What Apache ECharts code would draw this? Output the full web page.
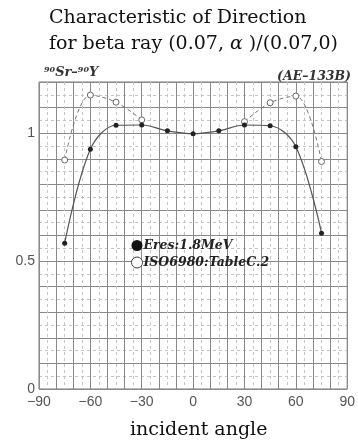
<!DOCTYPE html>
<html><head><meta charset="utf-8">
<script src="https://cdn.jsdelivr.net/npm/echarts@6/dist/echarts.min.js"></script>
<style>html,body{margin:0;padding:0;background:#fff}#c{width:358px;height:442px}</style>
</head><body><div id="c"></div>
<script>
const angles = [-75, -60, -45, -30, -15, 0, 15, 30, 45, 60, 75];
const eres = [0.570, 0.937, 1.031, 1.032, 1.009, 0.998, 1.009, 1.032, 1.029, 0.947, 0.609];
const iso = [0.895, 1.149, 1.121, 1.052, null, null, null, 1.045, 1.119, 1.145, 0.889];
const xTickLabels = [-90, -60, -30, 0, 30, 60, 90];
const yTickLabels = [0, 0.5, 1];

const chart = echarts.init(document.getElementById('c'));
const serif = 'DejaVu Serif';
const fs = 19;
chart.setOption({
  backgroundColor: '#fff',
  animation: false,
  title: {
    text: 'Characteristic of Direction\n{n|for beta ray (0.07, }{i|α}{n| )/(0.07,0)}',
    left: 44, top: 0,
    textStyle: {
      fontFamily: serif, fontSize: fs, fontWeight: 'normal', color: '#111', lineHeight: 26,
      rich: {
        n: {fontFamily: serif, fontSize: fs, color: '#111', lineHeight: 26},
        i: {fontFamily: serif, fontSize: fs, fontStyle: 'italic', color: '#111', lineHeight: 26}
      }
    }
  },
  legend: {
    orient: 'vertical', left: 126, top: 234, itemWidth: 11, itemHeight: 11, itemGap: 4,
    icon: 'circle',
    textStyle: {fontFamily: serif, fontSize: 12.5, fontWeight: 'bold', fontStyle: 'italic', color: '#222', padding: [0,0,0,-4]},
    data: [
      {name: 'Eres:1.8MeV', itemStyle: {color: '#111', borderWidth: 0}},
      {name: 'ISO6980:TableC.2', itemStyle: {color: '#fff', borderColor: '#444', borderWidth: 1}}
    ]
  },
  grid: {left: 39, right: 7, top: 82, bottom: 53, show: true, borderColor: '#777', borderWidth: 1},
  xAxis: {
    type: 'value', min: -90, max: 90, interval: 10,
    axisLine: {show: false}, axisTick: {show: false},
    axisLabel: {
      margin: 6, color: '#555', fontFamily: 'Liberation Sans', fontSize: 14,
      formatter: v => xTickLabels.includes(Math.round(v)) && Math.abs(v - Math.round(v)) < 1e-6 ? String(Math.round(v)).replace('-', '\u2212') : ''
    },
    splitLine: {show: true, lineStyle: {color: '#8a8a8a', width: 1}},
    minorTick: {show: false, splitNumber: 2},
    minorSplitLine: {show: true, lineStyle: {color: '#c4c4c4', type: [3, 3], width: 1}}
  },
  yAxis: {
    type: 'value', min: 0, max: 1.2, interval: 0.1,
    axisLine: {show: false}, axisTick: {show: false},
    axisLabel: {
      margin: 4, color: '#555', fontFamily: 'Liberation Sans', fontSize: 14,
      formatter: v => { const t = yTickLabels.find(y => Math.abs(y - v) < 1e-6); return t === undefined ? '' : String(t); }
    },
    splitLine: {show: true, lineStyle: {color: '#8a8a8a', width: 1}},
    minorTick: {show: false, splitNumber: 2},
    minorSplitLine: {show: true, lineStyle: {color: '#c4c4c4', type: [3, 3], width: 1}}
  },
  series: [
    {
      name: 'Eres:1.8MeV', type: 'line', smooth: 0.35,
      data: angles.map((a, i) => [a, eres[i]]),
      symbol: 'circle', symbolSize: 5,
      itemStyle: {color: '#222'},
      lineStyle: {color: '#555', width: 1.2},
      z: 3
    },
    {
      name: 'ISO6980:TableC.2', type: 'line', smooth: 0.35, connectNulls: false,
      data: angles.map((a, i) => [a, iso[i]]),
      symbol: 'circle', symbolSize: 6,
      itemStyle: {color: '#fff', borderColor: '#666', borderWidth: 1},
      lineStyle: {color: '#777', width: 1, type: [4, 3]},
      z: 2
    }
  ],
  graphic: [
    {type: 'text', left: 44, top: 66, z: 10, style: {
      text: '{s|90}{b|Sr\u2013}{s|90}{b|Y}',
      rich: {
        s: {fontFamily: serif, fontSize: 8, fontWeight: 'bold', fontStyle: 'italic', fill: '#333', verticalAlign: 'top', padding: [0,0,6,0]},
        b: {fontFamily: serif, fontSize: 13, fontWeight: 'bold', fontStyle: 'italic', fill: '#333'}
      }
    }},
    {type: 'text', right: 7, top: 70, z: 10, style: {
      text: '(AE\u2013133B)', fontFamily: serif, fontSize: 12.5, fontWeight: 'bold', fontStyle: 'italic', fill: '#333'
    }},
    {type: 'text', left: 130, top: 421, z: 10, style: {
      text: 'incident angle', fontFamily: serif, fontSize: fs, fill: '#111'
    }}
  ]
});
</script>
</body></html>
